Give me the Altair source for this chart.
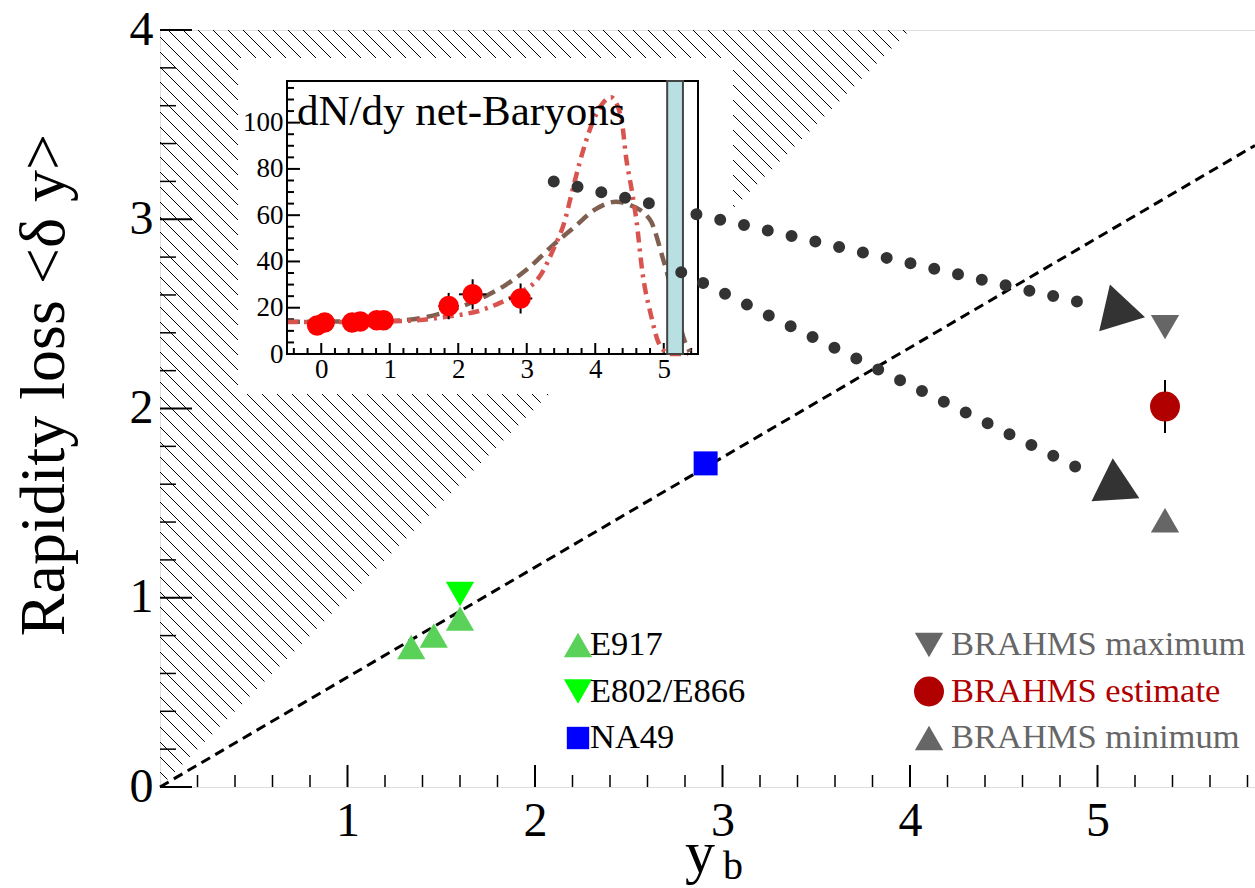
import math
import altair as alt
import numpy as np
import pandas as pd

FONT = "Liberation Serif, Times New Roman, DejaVu Serif, serif"

# ---------------- main panel data ----------------
e917_yb = [1.34, 1.46, 1.60]
e917_dy = [0.74, 0.80, 0.89]
e802_yb = [1.60]
e802_dy = [1.02]
na49_yb = [2.91]
na49_dy = [1.71]
brahms_yb = [5.36]
brahms_max = [2.43]
brahms_est = [2.01]
brahms_est_err = [0.14]
brahms_min = [1.41]

scaling_x = [0.0, 5.84]
scaling_y = [0.0, 3.39]

upper_path_x = [2.10, 5.00]
upper_path_y = [3.20, 2.54]
lower_path_x = [2.78, 4.99]
lower_path_y = [2.72, 1.64]

x_major = [1, 2, 3, 4, 5]
y_major = [0, 1, 2, 3, 4]
x_tick_labels = [1, 2, 3, 4, 5]
y_tick_labels = [0, 1, 2, 3, 4]

legend_left = ["E917", "E802/E866", "NA49"]
legend_right = ["BRAHMS maximum", "BRAHMS estimate", "BRAHMS minimum"]

# ---------------- inset data ----------------
inset_x_labels = [0, 1, 2, 3, 4, 5]
inset_y_labels = [0, 20, 40, 60, 80, 100]

red_pts_y = [-0.06, 0.05, 0.45, 0.57, 0.81, 0.91, 1.86, 2.21, 2.91]
red_pts_dndy = [12.3, 13.6, 13.6, 14.0, 14.6, 14.6, 20.7, 25.8, 24.0]
red_pts_ex = [0, 0, 0, 0, 0, 0, 0.15, 0.20, 0.17]
red_pts_ey = [0, 0, 0, 0, 0, 0, 5.7, 6.5, 6.5]

brown_x = [-0.5, 0.0, 0.5, 1.0, 1.5, 2.0, 2.4, 2.7, 3.0, 3.4, 3.7, 4.0, 4.3, 4.5, 4.8, 5.0, 5.15, 5.3, 5.38]
brown_y = [13.9, 14.0, 14.1, 14.3, 15.8, 20.0, 25.0, 30.0, 36.5, 47.5, 55.0, 62.5, 65.8, 64.5, 58.0, 40.0, 24.0, 6.0, 1.0]

red_x = [-0.5, 0.0, 0.5, 1.0, 1.5, 1.7, 2.0, 2.3, 2.6, 2.9, 3.2, 3.4, 3.55, 3.65, 3.77, 3.96,
         4.1, 4.23, 4.38, 4.45, 4.54, 4.6, 4.69, 4.82, 4.91, 5.0, 5.1, 5.35]
red_y = [13.8, 13.8, 13.9, 14.1, 14.8, 15.6, 16.8, 18.6, 22.0, 26.5, 34.0, 46.0, 57.0, 68.7, 82.5, 100.0,
         108.0, 111.0, 102.0, 85.0, 69.6, 58.0, 35.0, 16.0, 6.0, 1.5, 0.0, 0.0]

band_lo = [5.05]
band_hi = [5.28]

# ---------------- layout ----------------
W, H = 1095, 757
XMAX, YMAX = 5.84, 4.0
SX, SY = W / XMAX, H / YMAX
IX0, IX1, IY0, IY1 = 127, 538, 51, 324      # inset box (pixels, relative to plot)
WB = (78, 573, 28, 364)                      # white box behind inset

C_E917 = "#5ad25a"
C_E802 = "#00ff00"
C_NA49 = "#0000ff"
C_GRAY = "#666666"
C_DRED = "#b00000"
C_DARK = "#333333"

XM = alt.Scale(domain=[0, XMAX], nice=False, zero=False)
YM = alt.Scale(domain=[0, YMAX], nice=False, zero=False)
XI = alt.Scale(domain=[-0.5, 5.5], range=[IX0, IX1], nice=False, zero=False)
YI = alt.Scale(domain=[0, 118], range=[IY1, IY0], nice=False, zero=False)


def mx(f, axis=None):
    return alt.X(f, type="quantitative", scale=XM, axis=axis)


def my(f, axis=None):
    return alt.Y(f, type="quantitative", scale=YM, axis=axis)


def ix(f, axis=None):
    return alt.X(f, type="quantitative", scale=XI, axis=axis)


def iy(f, axis=None):
    return alt.Y(f, type="quantitative", scale=YI, axis=axis)


one = pd.DataFrame({"a": [0]})
layers = []

# ---- hatched forbidden region (delta y > y_b), drawn as 45 degree lines ----
k = SY / SX
rows = []
for c in np.arange(-H, W, 15.0):
    if c >= 0:
        px0, py0 = c, 0.0
    else:
        px0, py0 = 0.0, -c
    px1 = (H + c) / (1 + k)
    py1 = px1 - c
    if px1 <= px0:
        continue
    rows.append({"x": px0 / SX, "y": YMAX - py0 / SY, "x2": px1 / SX, "y2": YMAX - py1 / SY})
hatch_df = pd.DataFrame(rows)
layers.append(
    alt.Chart(hatch_df).mark_rule(color="black", strokeWidth=1).encode(
        x=mx("x"), y=my("y"), x2="x2", y2="y2")
)

# ---- dashed scaling line ----
layers.append(
    alt.Chart(pd.DataFrame({"x": scaling_x, "y": scaling_y}))
    .mark_line(color="black", strokeWidth=3, strokeDash=[10, 6])
    .encode(x=mx("x"), y=my("y"))
)

# ---- white box behind inset ----
layers.append(
    alt.Chart(one).mark_rect(color="white").encode(
        x=alt.value(WB[0]), x2=alt.value(WB[1]), y=alt.value(WB[2]), y2=alt.value(WB[3]))
)

# ---- inset ticks with axes (labels only) ----
ix_minor = [round(-0.4 + 0.2 * i, 1) for i in range(0, 30) if abs(round(-0.4 + 0.2 * i, 1) % 1) > 1e-6]
iy_minor = [v for v in range(5, 118, 5) if v % 20]
layers.append(
    alt.Chart(pd.DataFrame({"v": inset_x_labels})).mark_rule(color="black", strokeWidth=2).encode(
        x=ix("v", axis=alt.Axis(values=inset_x_labels, orient="bottom", offset=-(H - IY1), ticks=False,
                                domain=False, grid=False, title=None, labelFont=FONT, labelFontSize=27,
                                labelColor="black", labelPadding=2, labelFlush=False, labelOverlap=False,
                                zindex=2)),
        y=alt.value(IY1), y2=alt.value(IY1 - 11))
)
layers.append(
    alt.Chart(pd.DataFrame({"v": ix_minor})).mark_rule(color="black", strokeWidth=2).encode(
        x=ix("v"), y=alt.value(IY1), y2=alt.value(IY1 - 6))
)
layers.append(
    alt.Chart(pd.DataFrame({"v": inset_y_labels})).mark_rule(color="black", strokeWidth=2).encode(
        y=iy("v", axis=alt.Axis(values=inset_y_labels, orient="left", offset=-IX0, ticks=False,
                                domain=False, grid=False, title=None, labelFont=FONT, labelFontSize=27,
                                labelColor="black", labelPadding=4, labelFlush=False, labelOverlap=False,
                                zindex=2)),
        x=alt.value(IX0), x2=alt.value(IX0 + 13))
)
layers.append(
    alt.Chart(pd.DataFrame({"v": iy_minor})).mark_rule(color="black", strokeWidth=2).encode(
        y=iy("v"), x=alt.value(IX0), x2=alt.value(IX0 + 7))
)

# ---- inset curves ----
layers.append(
    alt.Chart(pd.DataFrame({"x": brown_x, "y": brown_y}))
    .mark_line(color="#7f6050", strokeWidth=4.5, strokeDash=[13, 7], interpolate="monotone")
    .encode(x=ix("x"), y=iy("y"))
)
layers.append(
    alt.Chart(pd.DataFrame({"x": red_x, "y": red_y}))
    .mark_line(color="#d9544f", strokeWidth=4.5, strokeDash=[11, 6, 3, 6], interpolate="monotone")
    .encode(x=ix("x"), y=iy("y"))
)

# ---- inset red points with error bars ----
rp = pd.DataFrame({"x": red_pts_y, "y": red_pts_dndy, "ex": red_pts_ex, "ey": red_pts_ey})
rp["xl"], rp["xh"] = rp.x - rp.ex, rp.x + rp.ex
rp["yl"], rp["yh"] = rp.y - rp.ey, rp.y + rp.ey
rpe = rp[rp.ey > 0]
layers.append(
    alt.Chart(rpe).mark_rule(color="black", strokeWidth=2).encode(x=ix("x"), y=iy("yl"), y2="yh")
)
layers.append(
    alt.Chart(rpe).mark_rule(color="black", strokeWidth=2).encode(x=ix("xl"), x2="xh", y=iy("y"))
)
layers.append(
    alt.Chart(rp).mark_point(shape="circle", filled=True, size=420, color="#ff0000", opacity=1)
    .encode(x=ix("x"), y=iy("y"))
)

# ---- inset frame ----
layers.append(
    alt.Chart(one).mark_rect(fillOpacity=0, stroke="black", strokeWidth=2).encode(
        x=alt.value(IX0), x2=alt.value(IX1), y=alt.value(IY0), y2=alt.value(IY1))
)

# ---- dotted paths ----
def dotted(xs, ys):
    return (alt.Chart(pd.DataFrame({"x": xs, "y": ys}))
            .mark_line(color=C_DARK, strokeWidth=12, strokeDash=[0, 24.4], strokeCap="round")
            .encode(x=mx("x"), y=my("y")))


layers.append(dotted(upper_path_x, upper_path_y))

# ---- band in inset ----
layers.append(
    alt.Chart(pd.DataFrame({"lo": band_lo, "hi": band_hi})).mark_rect(
        color="#b8dfe2", stroke="#444444", strokeWidth=2).encode(
        x=ix("lo"), x2="hi", y=alt.value(IY0), y2=alt.value(IY1))
)

layers.append(dotted(lower_path_x, lower_path_y))

# ---- arrow heads at the end of the dotted paths ----
heads = []
for xs, ys in ((upper_path_x, upper_path_y), (lower_path_x, lower_path_y)):
    dxp = (xs[1] - xs[0]) * SX
    dyp = (ys[0] - ys[1]) * SY
    L = math.hypot(dxp, dyp)
    ux, uy = dxp / L, dyp / L
    ahead = 28.0
    heads.append({"x": xs[1] + ahead * ux / SX, "y": ys[1] - ahead * uy / SY,
                  "ang": math.degrees(math.atan2(dyp, dxp))})
layers.append(
    alt.Chart(pd.DataFrame(heads)).mark_point(shape="triangle-right", filled=True, size=2300,
                                              color=C_DARK, opacity=1)
    .encode(x=mx("x"), y=my("y"), angle=alt.Angle("ang:Q", scale=None))
)

# ---- main data points ----
def pts(xs, ys, shape, color, size):
    return (alt.Chart(pd.DataFrame({"x": xs, "y": ys}))
            .mark_point(shape=shape, filled=True, size=size, color=color, opacity=1, strokeWidth=0)
            .encode(x=mx("x"), y=my("y")))


layers.append(pts(e917_yb, e917_dy, "triangle-up", C_E917, 800))
layers.append(pts(e802_yb, e802_dy, "triangle-down", C_E802, 800))
layers.append(pts(na49_yb, na49_dy, "square", C_NA49, 576))
layers.append(pts(brahms_yb, brahms_max, "triangle-down", C_GRAY, 800))
layers.append(pts(brahms_yb, brahms_min, "triangle-up", C_GRAY, 800))
est = pd.DataFrame({"x": brahms_yb, "y": brahms_est, "e": brahms_est_err})
est["lo"], est["hi"] = est.y - est.e, est.y + est.e
layers.append(alt.Chart(est).mark_rule(color="black", strokeWidth=2).encode(x=mx("x"), y=my("lo"), y2="hi"))
layers.append(pts(brahms_yb, brahms_est, "circle", C_DRED, 900))

# ---- main ticks (inward) and axis labels ----
x_minor = [round(0.2 * i, 1) for i in range(1, 30) if i % 5]
y_minor = [round(0.2 * i, 1) for i in range(1, 20) if i % 5]
layers.append(
    alt.Chart(pd.DataFrame({"v": x_major})).mark_rule(color="black", strokeWidth=2).encode(
        x=mx("v", axis=alt.Axis(values=x_tick_labels, orient="bottom", ticks=False, domain=False, grid=False,
                                title=None, labelFont=FONT, labelFontSize=48, labelColor="black",
                                labelPadding=10, labelFlush=False, labelOverlap=False, zindex=2)),
        y=alt.value(H), y2=alt.value(H - 22))
)
layers.append(
    alt.Chart(pd.DataFrame({"v": x_minor})).mark_rule(color="black", strokeWidth=1.5).encode(
        x=mx("v"), y=alt.value(H), y2=alt.value(H - 12))
)
layers.append(
    alt.Chart(pd.DataFrame({"v": y_major})).mark_rule(color="black", strokeWidth=2).encode(
        y=my("v", axis=alt.Axis(values=y_tick_labels, orient="left", ticks=False, domain=False, grid=False,
                                title=None, labelFont=FONT, labelFontSize=48, labelColor="black",
                                labelPadding=7, labelFlush=False, labelOverlap=False, zindex=2)),
        x=alt.value(0), x2=alt.value(32))
)
layers.append(
    alt.Chart(pd.DataFrame({"v": y_minor})).mark_rule(color="black", strokeWidth=1.5).encode(
        y=my("v"), x=alt.value(0), x2=alt.value(16))
)

# ---- legend ----
leg = pd.DataFrame({
    "label": legend_left + legend_right,
    "shape": ["triangle-up", "triangle-down", "square", "triangle-down", "circle", "triangle-up"],
    "mcolor": [C_E917, C_E802, C_NA49, C_GRAY, C_DRED, C_GRAY],
    "tcolor": ["black", "black", "black", C_GRAY, C_DRED, C_GRAY],
    "msize": [800, 800, 500, 800, 900, 800],
    "col": [0, 0, 0, 1, 1, 1],
    "row": [0, 1, 2, 0, 1, 2],
})
leg["mx"] = np.where(leg.col == 0, 418, 769)
leg["tx"] = np.where(leg.col == 0, 430, 791)
leg["py"] = 615 + 46.5 * leg.row
layers.append(
    alt.Chart(leg).mark_point(filled=True, opacity=1, strokeWidth=0).encode(
        x=alt.X("mx:Q", scale=None, axis=None), y=alt.Y("py:Q", scale=None, axis=None),
        shape=alt.Shape("shape:N", scale=None), color=alt.Color("mcolor:N", scale=None),
        size=alt.Size("msize:Q", scale=None))
)
layers.append(
    alt.Chart(leg).mark_text(align="left", baseline="middle", font=FONT, fontSize=34.5).encode(
        x=alt.X("tx:Q", scale=None, axis=None), y=alt.Y("py:Q", scale=None, axis=None),
        text="label:N", color=alt.Color("tcolor:N", scale=None))
)

# ---- titles ----
def label(text, x, y, size, **kw):
    return alt.Chart(pd.DataFrame({"t": [text]})).mark_text(font=FONT, fontSize=size, color="black", **kw).encode(
        x=alt.value(x), y=alt.value(y), text="t:N")


layers.append(label("dN/dy net-Baryons", 137, 95, 43, align="left", baseline="alphabetic"))
layers.append(label("Rapidity loss <\u03b4 y>", -115, 355, 64, align="center", baseline="middle", angle=270))
layers.append(label("y", 540, 842, 60, align="center", baseline="alphabetic"))
layers.append(label("b", 573, 849, 40, align="center", baseline="alphabetic"))

chart = (
    alt.layer(*layers)
    .resolve_scale(x="independent", y="independent")
    .properties(width=W, height=H, padding={"left": 160, "top": 30, "right": 0, "bottom": 101},
                autosize=alt.AutoSizeParams(type="none"), background="white")
    .configure_view(stroke="black", strokeWidth=2)
    .configure(font=FONT)
)

chart.save("out.html", embed_options={"renderer": "svg", "actions": False})
